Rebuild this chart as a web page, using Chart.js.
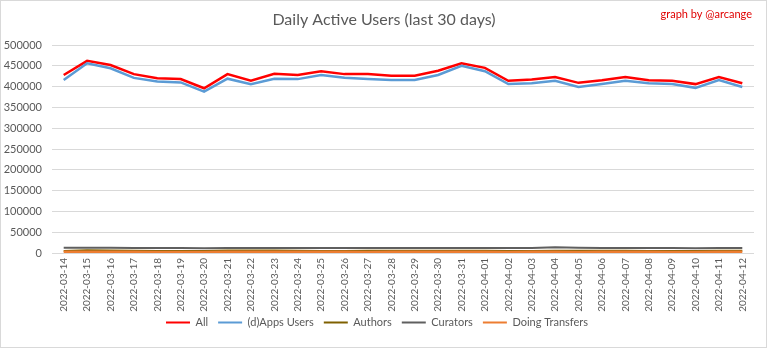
<!DOCTYPE html>
<html>
<head>
<meta charset="utf-8">
<script src="https://cdn.jsdelivr.net/npm/chart.js@4.4.0/dist/chart.umd.min.js"></script>
<style>
  html, body { margin: 0; padding: 0; background: #ffffff; }
  #wrap { width: 768px; height: 349px; }
</style>
</head>
<body>
<div id="wrap"><canvas id="dau" width="768" height="349"></canvas></div>
<script>
const days = [
  "2022-03-14", "2022-03-15", "2022-03-16", "2022-03-17", "2022-03-18",
  "2022-03-19", "2022-03-20", "2022-03-21", "2022-03-22", "2022-03-23",
  "2022-03-24", "2022-03-25", "2022-03-26", "2022-03-27", "2022-03-28",
  "2022-03-29", "2022-03-30", "2022-03-31", "2022-04-01", "2022-04-02",
  "2022-04-03", "2022-04-04", "2022-04-05", "2022-04-06", "2022-04-07",
  "2022-04-08", "2022-04-09", "2022-04-10", "2022-04-11", "2022-04-12"
];

const allUsers = [
  428000, 462000, 452000, 430000, 420000, 418000, 396000, 430000, 414000, 431000,
  428000, 437000, 430000, 430000, 426000, 426000, 438000, 456000, 445000, 414000,
  417000, 423000, 409000, 415000, 423000, 415000, 414000, 406000, 423000, 408000
];
const appsUsers = [
  416000, 456000, 444000, 421000, 412000, 410000, 388000, 419000, 406000, 419000,
  418000, 428000, 421000, 418000, 416000, 416000, 428000, 450000, 437000, 406000,
  408000, 414000, 399000, 406000, 414000, 408000, 406000, 397000, 416000, 399000
];
const authors = [
  5000, 6500, 6200, 5200, 5000, 4900, 4800, 5800, 6000, 5900,
  5400, 5100, 5000, 5200, 5600, 5500, 5300, 5200, 5600, 5100,
  5000, 5200, 5400, 5300, 5200, 5000, 4900, 4800, 5600, 5500
];
const curators = [
  12500, 12800, 12600, 12200, 12000, 11900, 11700, 12100, 12000, 12200,
  12100, 12000, 11900, 11800, 11900, 11800, 12000, 12100, 12000, 11800,
  11900, 14000, 12500, 12000, 12000, 11900, 11800, 11700, 11900, 11800
];
const transfers = [
  2800, 3200, 3100, 2900, 2700, 2700, 2500, 2900, 2800, 2900,
  2800, 2900, 2800, 2700, 2800, 2800, 2900, 3000, 2900, 2700,
  2800, 2900, 2700, 2800, 2900, 2800, 2700, 2600, 2900, 2800
];

const yMax = 500000;
const yStep = 50000;

const textGrey = "#595959";
const fontFamily = "Lato, 'Noto Sans', sans-serif";

// frame, title and signature drawn straight on the canvas
const decorations = {
  id: "decorations",
  afterLayout(chart) {
    // pull the legend row a little closer to the date labels
    chart.legend.top -= 6;
    chart.legend.bottom -= 6;
  },
  beforeDraw(chart) {
    const ctx = chart.ctx;
    ctx.save();
    ctx.fillStyle = "#ffffff";
    ctx.fillRect(0, 0, chart.width, chart.height);
    ctx.restore();
  },
  afterDraw(chart) {
    const ctx = chart.ctx;
    ctx.save();
    ctx.strokeStyle = "#d9d9d9";
    ctx.lineWidth = 1;
    ctx.strokeRect(0.5, 0.5, chart.width - 2, chart.height - 2);

    ctx.fillStyle = textGrey;
    ctx.font = "16px " + fontFamily;
    ctx.textAlign = "center";
    ctx.textBaseline = "middle";
    ctx.fillText("Daily Active Users (last 30 days)", 384, 20);

    ctx.fillStyle = "#e00000";
    ctx.font = "11px " + fontFamily;
    ctx.textAlign = "right";
    ctx.fillText("graph by @arcange", 752, 14);
    ctx.restore();
  }
};

function series(label, data, color, width, order) {
  return {
    label: label,
    data: data,
    borderColor: color,
    backgroundColor: color,
    borderWidth: width,
    pointRadius: 0,
    pointHoverRadius: 0,
    tension: 0,
    order: order
  };
}

new Chart(document.getElementById("dau"), {
  type: "line",
  data: {
    labels: days,
    datasets: [
      series("All", allUsers, "#ff0000", 2.5, 5),
      series("(d)Apps Users", appsUsers, "#5b9bd5", 2.5, 4),
      series("Authors", authors, "#7f6000", 2, 3),
      series("Curators", curators, "#5f5f5f", 2, 2),
      series("Doing Transfers", transfers, "#ed7d31", 2.5, 1)
    ]
  },
  options: {
    responsive: false,
    animation: false,
    layout: { padding: { top: 45, right: 14, bottom: 5, left: 0 } },
    scales: {
      x: {
        offset: true,
        grid: { display: false, drawTicks: false },
        border: { display: false },
        ticks: {
          minRotation: 90,
          maxRotation: 90,
          autoSkip: false,
          padding: 5,
          color: textGrey,
          font: { family: fontFamily, size: 10 }
        },
        afterFit(scale) { scale.height = 60; }
      },
      y: {
        min: 0,
        max: yMax,
        grid: { color: "#d9d9d9", drawTicks: false },
        border: { display: false },
        ticks: {
          stepSize: yStep,
          padding: 10,
          color: textGrey,
          font: { family: fontFamily, size: 11 },
          callback: (v) => String(v)
        },
        afterFit(scale) { scale.width = 52; }
      }
    },
    plugins: {
      title: { display: false },
      tooltip: { enabled: false },
      legend: {
        position: "bottom",
        labels: {
          boxWidth: 24,
          boxHeight: 2,
          padding: 10,
          color: textGrey,
          font: { family: fontFamily, size: 11 },
          sort: (a, b) => a.datasetIndex - b.datasetIndex,
          generateLabels(chart) {
            const items = Chart.defaults.plugins.legend.labels.generateLabels(chart);
            items.forEach((it) => { it.lineWidth = 0; });
            return items;
          }
        }
      }
    }
  },
  plugins: [decorations]
});
</script>
</body>
</html>
